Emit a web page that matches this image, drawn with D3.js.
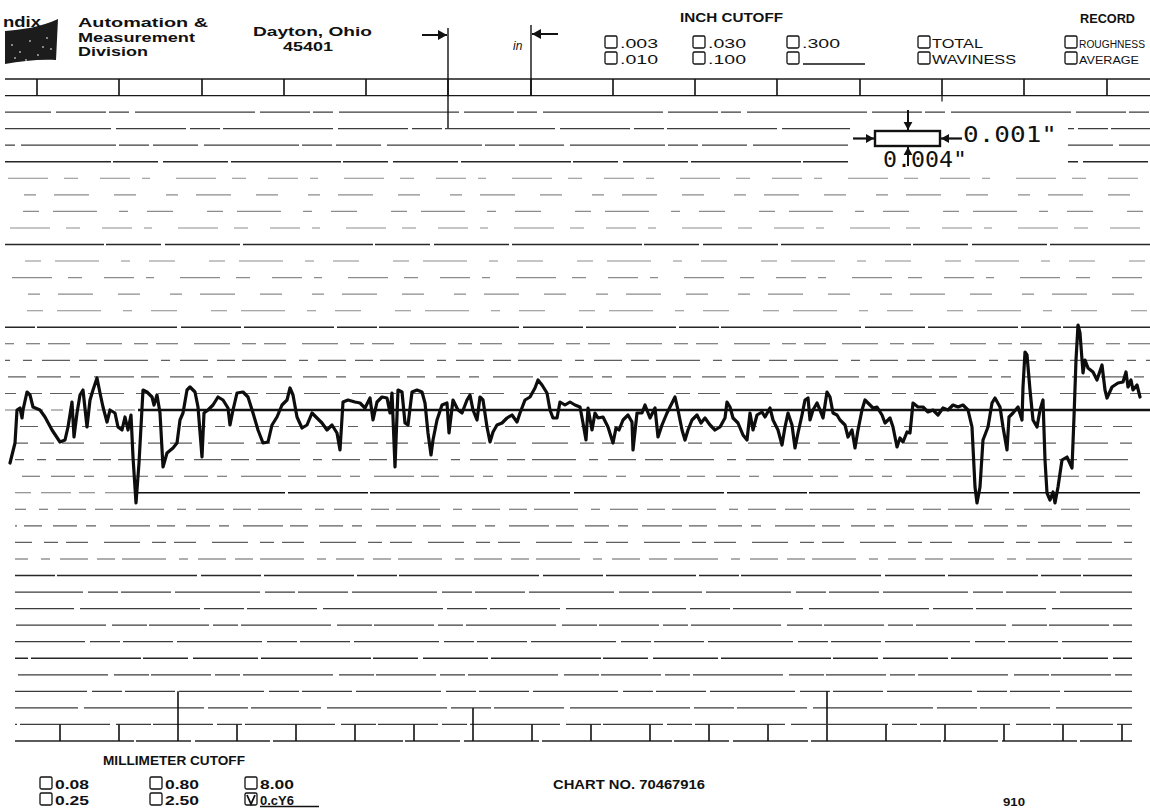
<!DOCTYPE html>
<html>
<head>
<meta charset="utf-8">
<script src="https://cdn.jsdelivr.net/npm/d3@7"></script>
<style>
  html, body { margin: 0; padding: 0; background: #fff; }
  svg { display: block; }
  text { fill: #111; }
</style>
</head>
<body>
<svg id="chart" width="1150" height="812"></svg>
<script>
'use strict';

// trace position along the chart and profile height from the mean line (chart units)
const traceX = [
  10, 15, 17, 20, 22, 23, 27, 30, 33, 40, 45, 52, 60, 65, 68, 72, 74, 77, 80, 83,
  87, 90, 93, 97, 100, 103, 107, 110, 115, 118, 122, 125, 128, 131, 133, 136, 139, 143, 147, 152,
  154, 157, 160, 163, 167, 173, 177, 180, 183, 187, 190, 195, 198, 202, 204, 208, 213, 218, 223, 228,
  230, 233, 237, 243, 248, 253, 258, 263, 268, 272, 277, 282, 287, 290, 293, 297, 302, 307, 312, 317,
  322, 327, 332, 337, 340, 343, 348, 355, 360, 365, 370, 373, 377, 382, 387, 390, 392, 395, 398, 402,
  405, 408, 412, 417, 422, 425, 428, 431, 433, 437, 442, 447, 449, 453, 458, 462, 467, 470, 473, 477,
  480, 483, 487, 490, 493, 497, 502, 507, 512, 517, 520, 525, 530, 535, 538, 542, 547, 550, 553, 557,
  560, 565, 570, 575, 580, 583, 586, 588, 592, 595, 598, 603, 608, 613, 616, 619, 623, 628, 632, 633,
  637, 642, 645, 650, 655, 658, 662, 667, 672, 675, 678, 682, 685, 688, 692, 697, 701, 705, 710, 715,
  720, 725, 727, 730, 733, 738, 743, 747, 750, 753, 757, 762, 765, 770, 773, 778, 782, 785, 788, 792,
  795, 798, 802, 805, 808, 810, 813, 817, 820, 823, 827, 830, 833, 837, 840, 845, 848, 852, 855, 858,
  862, 865, 868, 873, 877, 882, 885, 890, 893, 897, 900, 903, 907, 910, 913, 918, 923, 928, 933, 938,
  943, 948, 953, 958, 963, 968, 972, 975, 977, 980, 983, 988, 992, 995, 1000, 1003, 1007, 1009, 1013, 1018,
  1022, 1023, 1025, 1027, 1030, 1033, 1037, 1040, 1043, 1045, 1047, 1050, 1053, 1055, 1058, 1062, 1067, 1072, 1074, 1076,
  1078, 1080, 1083, 1085, 1088, 1093, 1097, 1102, 1105, 1107, 1112, 1118, 1123, 1126, 1128, 1131, 1133, 1137, 1140
];
const traceH = [
  -53, -33, 0, 2, -8, 0, 18, 15, 3, 0, -7, -20, -32, -30, -17, 8, -27, -3, 15, 20,
  -17, 10, 20, 32, 17, 3, -12, 0, -3, -17, -20, -7, -20, -5, -47, -93, -53, 20, 18, 13,
  5, 15, -3, -57, -43, -38, -33, -10, -3, 20, 23, 18, 3, -47, -3, 0, 5, 13, 10, 2,
  -15, 0, 17, 18, 13, -3, -20, -33, -32, -15, -7, 5, 10, 22, 15, -7, -18, -15, -3, -8,
  -13, -20, -15, -23, -40, 8, 10, 8, 7, 2, 12, -10, 8, 13, 12, -3, 17, -57, 20, 18,
  -13, -15, 18, 20, 18, 7, -23, -45, -30, -10, 5, 7, -23, 10, 0, -3, 10, 15, 0, -10,
  13, 10, -17, -32, -22, -15, -13, -8, -5, -12, -3, 10, 13, 22, 30, 25, 17, 0, -8, -8,
  8, 5, 8, 5, 3, -13, -30, 2, -20, -3, -8, -7, -17, -33, -18, -20, -10, -5, -12, -40,
  -3, -3, 5, -8, 2, -27, -15, -3, 7, 13, 0, -20, -30, -20, -10, -5, -13, -8, -15, -20,
  -17, -8, 8, 3, -8, -13, -25, -30, -3, -20, -5, -2, -7, 2, -10, -20, -35, -17, -3, -15,
  -38, -23, -5, 10, 12, -10, 0, 7, 0, -8, 18, 13, -3, -5, -10, -15, -27, -20, -38, -20,
  0, 10, 7, 2, 3, -5, -13, -8, -17, -37, -28, -32, -22, -23, 7, 3, 3, -2, 0, -5,
  2, 0, 5, 3, 5, 0, -17, -77, -93, -77, -30, -17, 7, 12, 3, -17, -40, -7, -3, 3,
  -10, 23, 58, 55, 20, -10, -17, 0, 10, -50, -83, -90, -82, -93, -77, -50, -47, -58, -7, 50,
  85, 77, 37, 50, 42, 38, 30, 45, 20, 12, 23, 27, 28, 38, 23, 30, 20, 25, 13
];

// chart paper divisions
const gridDivisions = d3.range(-20, 21);
const topStripTicks = [37, 119, 202, 284, 366, 448, 531, 613, 695, 777, 860, 942, 1024, 1107];
const bottomStripTicks = [60, 119, 178, 237, 296, 355, 414, 473, 532, 591, 650, 709, 768, 827, 886, 945, 1004, 1063, 1122];
const bottomTallTicks = [178, 827];
const bottomMidTicks = [473];

// form labels
const divisionLines = ['Automation &', 'Measurement', 'Division'];
const addressLines = ['Dayton, Ohio', '45401'];
const inchCutoffs = ['.003', '.010', '.030', '.100', '.300', ''];
const recordTypes = ['TOTAL', 'WAVINESS'];
const recordModes = ['ROUGHNESS', 'AVERAGE'];
const mmCutoffs = ['0.08', '0.25', '0.80', '2.50', '8.00', '0.cY6'];
const mmChecked = '0.cY6';
const scaleLabels = ['0.001"', '0.004"'];
const chartNo = 'CHART NO. 70467916';
const pageNo = '910';

const W = 1150, H = 812;
const DIV = 16.55;
const svg = d3.select('#chart');

const x = d3.scaleLinear().domain([0, 1150]).range([0, W]);
const y = d3.scaleLinear().domain([-20 * DIV, 20 * DIV]).range([741, 79]);
const gy = (k) => y(k * DIV);

const SANS = '"Liberation Sans", Arial, sans-serif';
const MONO = '"DejaVu Sans Mono", monospace';

// ---- paper grid ----
// scanned paper: lines break up unevenly, fainter in the upper middle
const dashSets = {
  solid: ['90,3,40,2,140,4,60,3', '130,2,55,4,75,3', '65,3,110,2,45,5'],
  firm: ['70,4,30,3,110,5', '45,6,95,3,30,4', '120,5,50,3,20,6'],
  faint: ['14,22,30,12,8,26,40,16', '22,30,12,18,35,25', '9,19,26,34,16,14,44,22'],
  broken: ['24,9,10,14,40,7,18,11', '36,12,14,8,22,16', '18,7,44,13,9,10,28,9'],
  low: ['60,4,25,3,90,6,35,2', '85,5,30,3,50,4', '40,3,70,6,120,4']
};
const lineStyle = (k) => {
  const i = 20 - k; // 0 at top
  const pick = (set) => dashSets[set][i % 3];
  if (i <= 1) return { dash: null, op: 1, w: 1.3 };
  if (i % 5 === 0) return { dash: pick('solid'), op: 0.95, w: 1.4 };
  if (i < 5) return { dash: pick('firm'), op: 0.85, w: 1.2 };
  if (i < 15) return { dash: pick('faint'), op: 0.5, w: 1.1 };
  if (i < 30) return { dash: pick('broken'), op: 0.7, w: 1.1 };
  return { dash: pick('low'), op: 0.85, w: 1.2 };
};

const grid = svg.append('g').attr('class', 'grid');
grid.selectAll('line.h')
  .data(gridDivisions.filter((k) => k !== 0 && k !== -5))
  .join('line')
  .attr('class', 'h')
  .attr('x1', (k) => (k > 0 ? x(5) : x(15)))
  .attr('x2', (k) => (k > 0 ? x(1150) : x(1132)))
  .attr('y1', gy).attr('y2', gy)
  .attr('stroke', '#1a1a1a')
  .attr('stroke-width', (k) => lineStyle(k).w)
  .attr('stroke-opacity', (k) => lineStyle(k).op)
  .attr('stroke-dasharray', (k) => lineStyle(k).dash)
  .attr('stroke-dashoffset', (k) => ((20 - k) * 37) % 113);

// thin lead-in of the mean line, then the heavy mean line
grid.append('line')
  .attr('x1', x(5)).attr('x2', x(138))
  .attr('y1', gy(0)).attr('y2', gy(0))
  .attr('stroke', '#1a1a1a').attr('stroke-opacity', 0.6)
  .attr('stroke-dasharray', '12,6,20,8');
grid.append('line')
  .attr('x1', x(138)).attr('x2', x(1150))
  .attr('y1', gy(0)).attr('y2', gy(0))
  .attr('stroke', '#111').attr('stroke-width', 2.6);

// -5 division line: faint on the left, solid after the first dip
grid.append('line')
  .attr('x1', x(15)).attr('x2', x(135))
  .attr('y1', gy(-5)).attr('y2', gy(-5))
  .attr('stroke', '#1a1a1a').attr('stroke-opacity', 0.6)
  .attr('stroke-dasharray', '16,10,30,8');
grid.append('line')
  .attr('x1', x(135)).attr('x2', x(1140))
  .attr('y1', gy(-5)).attr('y2', gy(-5))
  .attr('stroke', '#111').attr('stroke-width', 1.5)
  .attr('stroke-dasharray', '150,3,80,2,200,4');

// top strip ticks
grid.selectAll('line.tt')
  .data(topStripTicks)
  .join('line')
  .attr('class', 'tt')
  .attr('x1', x).attr('x2', x)
  .attr('y1', gy(20)).attr('y2', gy(19))
  .attr('stroke', '#111').attr('stroke-width', 1.6);

// bottom strip ticks
grid.selectAll('line.bt')
  .data(bottomStripTicks)
  .join('line')
  .attr('class', 'bt')
  .attr('x1', x).attr('x2', x)
  .attr('y1', (d) => (bottomTallTicks.includes(d) ? gy(-17) : bottomMidTicks.includes(d) ? gy(-18) : gy(-19)))
  .attr('y2', gy(-20))
  .attr('stroke', '#111').attr('stroke-width', 1.6);

// start / end trace markers in the header
grid.append('line')
  .attr('x1', x(448)).attr('x2', x(448))
  .attr('y1', 28).attr('y2', 128)
  .attr('stroke', '#111').attr('stroke-width', 1.4);
grid.append('line')
  .attr('x1', x(531)).attr('x2', x(531))
  .attr('y1', 25).attr('y2', gy(19))
  .attr('stroke', '#111').attr('stroke-width', 1.4);
grid.append('line')
  .attr('x1', x(942)).attr('x2', x(942))
  .attr('y1', gy(19)).attr('y2', gy(19) + 6)
  .attr('stroke', '#111').attr('stroke-width', 1.2);

const arrow = (g, x1, y1, x2, y2, head, sw) => {
  g.append('line')
    .attr('x1', x1).attr('y1', y1).attr('x2', x2).attr('y2', y2)
    .attr('stroke', '#111').attr('stroke-width', sw);
  const a = Math.atan2(y2 - y1, x2 - x1);
  const p1 = [x2 - head * Math.cos(a) + head * 0.55 * Math.sin(a), y2 - head * Math.sin(a) - head * 0.55 * Math.cos(a)];
  const p2 = [x2 - head * Math.cos(a) - head * 0.55 * Math.sin(a), y2 - head * Math.sin(a) + head * 0.55 * Math.cos(a)];
  g.append('path')
    .attr('d', `M${x2},${y2}L${p1}L${p2}Z`)
    .attr('fill', '#111');
};

const header = svg.append('g').attr('class', 'header');
arrow(header, 422, 35, 447, 35, 9, 2);
arrow(header, 558, 34, 532, 34, 9, 2);
header.append('text')
  .attr('x', 513).attr('y', 50)
  .attr('font-family', SANS).attr('font-style', 'italic')
  .attr('font-size', 12)
  .text('in');

// ---- logo ----
header.append('path')
  .attr('d', 'M5,31 C20,30 42,27 58,19 L56,60 C40,59 22,61 5,64 Z')
  .attr('fill', '#1c1c1c');
header.selectAll('circle.speck')
  .data([[12, 45], [20, 52], [30, 41], [38, 55], [47, 38], [51, 49], [15, 58], [26, 60], [43, 47]])
  .join('circle')
  .attr('class', 'speck')
  .attr('cx', (d) => d[0]).attr('cy', (d) => d[1]).attr('r', 0.9)
  .attr('fill', '#bbb');
header.append('text')
  .attr('x', 3).attr('y', 27)
  .attr('font-family', SANS).attr('font-weight', 'bold')
  .attr('font-size', 15).attr('textLength', 38)
  .attr('lengthAdjust', 'spacingAndGlyphs')
  .text('ndix');

header.selectAll('text.div')
  .data(divisionLines)
  .join('text')
  .attr('class', 'div')
  .attr('x', 78).attr('y', (d, i) => 27 + i * 14.5)
  .attr('font-family', SANS).attr('font-weight', 'bold')
  .attr('font-size', 13)
  .attr('textLength', (d, i) => [130, 117, 70][i])
  .attr('lengthAdjust', 'spacingAndGlyphs')
  .text((d) => d);

header.selectAll('text.addr')
  .data(addressLines)
  .join('text')
  .attr('class', 'addr')
  .attr('x', (d, i) => (i === 0 ? 253 : 283)).attr('y', (d, i) => 36 + i * 15)
  .attr('font-family', SANS).attr('font-weight', 'bold')
  .attr('font-size', 13.5)
  .attr('textLength', (d, i) => (i === 0 ? 119 : 50))
  .attr('lengthAdjust', 'spacingAndGlyphs')
  .text((d) => d);

const checkbox = (g, bx, by, checked) => {
  g.append('rect')
    .attr('x', bx).attr('y', by).attr('width', 12).attr('height', 12)
    .attr('rx', 1.5)
    .attr('fill', 'none').attr('stroke', '#111').attr('stroke-width', 1.3);
  if (checked) {
    g.append('path')
      .attr('d', `M${bx + 2},${by + 2}L${bx + 6},${by + 11}L${bx + 10},${by + 2}`)
      .attr('fill', 'none').attr('stroke', '#111').attr('stroke-width', 1.8);
  }
};

header.append('text')
  .attr('x', 680).attr('y', 22)
  .attr('font-family', SANS).attr('font-weight', 'bold')
  .attr('font-size', 12).attr('textLength', 103)
  .attr('lengthAdjust', 'spacingAndGlyphs')
  .text('INCH CUTOFF');

const inchCols = [605, 693, 787];
inchCutoffs.forEach((d, i) => {
  const cx = inchCols[Math.floor(i / 2)];
  const cy = 48 + (i % 2) * 16;
  checkbox(header, cx, cy - 12, false);
  if (d) {
    header.append('text')
      .attr('x', cx + 15).attr('y', cy)
      .attr('font-family', SANS).attr('font-size', 13)
      .attr('textLength', 38).attr('lengthAdjust', 'spacingAndGlyphs')
      .text(d);
  } else {
    header.append('line')
      .attr('x1', cx + 16).attr('x2', cx + 78)
      .attr('y1', cy).attr('y2', cy)
      .attr('stroke', '#111').attr('stroke-width', 1.3);
  }
});

recordTypes.forEach((d, i) => {
  const cy = 48 + i * 16;
  checkbox(header, 918, cy - 12, false);
  header.append('text')
    .attr('x', 932).attr('y', cy)
    .attr('font-family', SANS).attr('font-size', 12.5)
    .attr('textLength', [51, 84][i]).attr('lengthAdjust', 'spacingAndGlyphs')
    .text(d);
});

header.append('text')
  .attr('x', 1080).attr('y', 23)
  .attr('font-family', SANS).attr('font-weight', 'bold')
  .attr('font-size', 12).attr('textLength', 55)
  .attr('lengthAdjust', 'spacingAndGlyphs')
  .text('RECORD');

// record mode labels run to the paper's right edge
recordModes.forEach((d, i) => {
  const cy = 48 + i * 16;
  checkbox(header, 1065, cy - 12, false);
  header.append('text')
    .attr('x', 1079).attr('y', cy)
    .attr('font-family', SANS).attr('font-size', 10)
    .attr('textLength', [66, 60][i]).attr('lengthAdjust', 'spacingAndGlyphs')
    .text(d);
});

// ---- vertical / horizontal magnification box ----
const sc = svg.append('g').attr('class', 'scale-box');
sc.append('rect')
  .attr('x', 850).attr('y', 124).attr('width', 218).attr('height', 47)
  .attr('fill', '#fff');
sc.append('rect')
  .attr('x', 875).attr('y', 131).attr('width', 65).attr('height', 15)
  .attr('fill', 'none').attr('stroke', '#111').attr('stroke-width', 2.4);
arrow(sc, 853, 138.5, 874, 138.5, 8, 2.2);
arrow(sc, 962, 138.5, 941, 138.5, 8, 2.2);
arrow(sc, 908, 110, 908, 130, 8, 2);
arrow(sc, 908, 166, 908, 147, 8, 2);
sc.append('text')
  .attr('x', 963).attr('y', 142)
  .attr('font-family', MONO).attr('font-size', 21)
  .attr('textLength', 94).attr('lengthAdjust', 'spacingAndGlyphs')
  .text(scaleLabels[0]);
sc.append('text')
  .attr('x', 883).attr('y', 167)
  .attr('font-family', MONO).attr('font-size', 21)
  .attr('textLength', 84).attr('lengthAdjust', 'spacingAndGlyphs')
  .text(scaleLabels[1]);

// ---- the profile trace ----
const trace = traceX.map((d, i) => [d, traceH[i]]);
svg.append('path')
  .datum(trace)
  .attr('d', d3.line().x((d) => x(d[0])).y((d) => y(d[1])))
  .attr('fill', 'none')
  .attr('stroke', '#0d0d0d')
  .attr('stroke-width', 3.2)
  .attr('stroke-linejoin', 'round')
  .attr('stroke-linecap', 'round');

// ---- footer ----
const footer = svg.append('g').attr('class', 'footer');
footer.append('text')
  .attr('x', 103).attr('y', 765)
  .attr('font-family', SANS).attr('font-weight', 'bold')
  .attr('font-size', 12).attr('textLength', 142)
  .attr('lengthAdjust', 'spacingAndGlyphs')
  .text('MILLIMETER CUTOFF');

const mmCols = [40, 150, 245];
mmCutoffs.forEach((d, i) => {
  const cx = mmCols[Math.floor(i / 2)];
  const cy = 789 + (i % 2) * 16;
  const checked = d === mmChecked;
  checkbox(footer, cx, cy - 12, checked);
  footer.append('text')
    .attr('x', cx + 15).attr('y', cy)
    .attr('font-family', SANS).attr('font-weight', 'bold')
    .attr('font-size', 12.5)
    .attr('textLength', 34).attr('lengthAdjust', 'spacingAndGlyphs')
    .text(d);
  if (checked) {
    footer.append('line')
      .attr('x1', cx + 15).attr('x2', cx + 74)
      .attr('y1', cy + 1.5).attr('y2', cy + 1.5)
      .attr('stroke', '#111').attr('stroke-width', 1.3);
  }
});

footer.append('text')
  .attr('x', 553).attr('y', 789)
  .attr('font-family', SANS).attr('font-weight', 'bold')
  .attr('font-size', 12).attr('textLength', 152)
  .attr('lengthAdjust', 'spacingAndGlyphs')
  .text(chartNo);

footer.append('text')
  .attr('x', 1003).attr('y', 806)
  .attr('font-family', SANS).attr('font-weight', 'bold')
  .attr('font-size', 10).attr('textLength', 22)
  .attr('lengthAdjust', 'spacingAndGlyphs')
  .text(pageNo);
</script>
</body>
</html>
